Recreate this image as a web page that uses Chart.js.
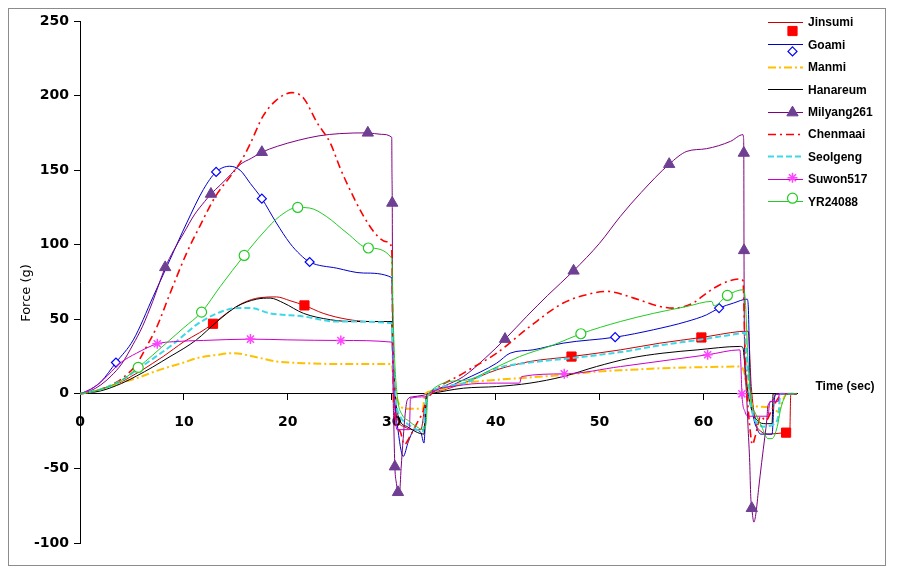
<!DOCTYPE html>
<html><head><meta charset="utf-8">
<script src="https://cdn.jsdelivr.net/npm/chart.js@4/dist/chart.umd.min.js"></script>
<style>html,body{margin:0;padding:0;background:#fff}canvas{display:block}</style>
</head><body>
<canvas id="c" width="897" height="579"></canvas>
<script>
// ---- data (time in sec, force in g) ----
const seriesNames = ['Jinsumi','Goami','Manmi','Hanareum','Milyang261','Chenmaai','Seolgeng','Suwon517','YR24088'];
const xTicks = [0,10,20,30,40,50,60];
const yTicks = [-100,-50,0,50,100,150,200,250];

const jinsumi = [[0,0],[1,1],[2,3],[3,5.5],[4,8],[5,12],[6,16],[7,20.5],[8,25],[9,30],[10,35],[11.5,41],[12.8,47],[14.1,54],[15.7,61],[17.3,64.5],[18.9,65],[20.2,62.5],[21.6,59.3],[23.4,54],[25.7,50],[27.9,48.5],[30,48.5],[30.1,20],[30.3,-5],[30.6,-18],[31.2,-22],[32,-24],[32.8,-24],[33.2,-8],[33.5,0],[34.5,2],[36.9,7.2],[40.1,16.1],[43.3,21.7],[47.3,25],[52,29.5],[55.8,34],[59.8,37.8],[63.5,41.8],[64.3,42],[64.6,5],[65,-18],[65.5,-25],[66.4,-27],[67.95,-26],[68.3,-27],[68.4,0],[69,0]];
const goami = [[0,0],[1,3],[2,8],[3.46,21],[5.13,36.2],[7.05,65.3],[8.66,90],[10.27,114.6],[11.87,137],[13.1,148.8],[14.4,152.6],[15.4,150],[16.4,141],[17.5,130.9],[18.9,114.6],[20.2,101],[21.2,93.3],[22.1,88.4],[24.7,84.3],[27.3,81],[30,78],[30.1,40],[30.3,-5],[30.6,-24],[30.9,-38],[31.1,-42],[31.6,-32],[32.2,-24],[32.8,-26],[33.1,-33],[33.3,-10],[33.5,0],[35,4],[36.9,9.4],[40.1,20.6],[41.4,27.3],[43.6,29.5],[46.5,34],[51.5,38],[55.2,43],[58.4,48.5],[60.3,53],[61.5,57.5],[62.9,60.9],[64.2,63.5],[64.3,60],[64.5,5],[64.8,-15],[65.2,-24],[65.5,-27],[66.6,-27],[66.8,-5],[67,0],[69,0]];
const manmi = [[0,0],[2,3],[4,7.5],[5.45,10.5],[7,14.5],[8.66,18.3],[10,21],[11.2,23.9],[13.2,26.2],[14.8,27.3],[16.7,25],[18.9,21.7],[21.5,20.6],[25,20],[30,20],[30.1,15],[30.4,0],[30.8,-8],[31.5,-10],[33,-10],[33.2,0],[34,2],[36.9,7.2],[40.1,9.4],[43.3,11],[46.5,12.7],[49.7,14.9],[52.9,16.1],[56.1,17.2],[59.4,17.8],[63.5,18.3],[63.9,15],[64.3,0],[64.8,-8],[66.5,-9],[67.2,-12],[67.6,-5],[68,0],[69,0]];
const hanareum = [[0,0],[2,2],[4,7],[5.45,12],[7,18],[8.66,25],[10,30.5],[11.2,36.2],[13.2,48.5],[15.1,58.6],[17,63.5],[18.3,64.2],[19.6,60.9],[21.5,54],[24.1,49.7],[26.3,48.5],[30,48.5],[30.1,30],[30.4,-5],[30.8,-18],[31.5,-22],[32.5,-26],[33.1,-27],[33.3,-2],[33.6,0],[36.9,3.8],[40.1,4.9],[43.3,7.2],[46.5,11.6],[49.7,18.3],[52.9,23.9],[56.1,27.3],[59.4,29.5],[63.5,31.8],[63.8,31],[63.9,25],[64.2,5],[64.6,-10],[65.2,-18],[66,-20],[66.6,-20],[66.7,0],[69,0]];
const milyang261 = [[0,0],[1,2],[2,6],[3,12],[4,20],[5.1,33],[6,45],[7,62],[8.2,84.8],[9,96],[10,108],[11,120],[12,129],[12.6,134],[13.5,140],[14.5,147],[15.4,153.7],[16.5,158],[17.5,162],[19,166],[21,170],[23,173],[25,174.5],[27.7,175],[29,174],[30,172],[30.02,150],[30.05,128],[30.08,60],[30.12,10],[30.2,-20],[30.3,-48.8],[30.45,-60],[30.6,-66],[30.75,-66],[30.9,-50],[31.1,-30],[31.3,-13],[31.5,-4],[32,-2],[33,-1],[33.5,0],[35,5],[36.9,11.6],[39,24],[40.9,36.7],[43,52],[45,66],[47.5,82.5],[50,101],[52,119],[54,135],[56.7,154],[58.4,162.6],[60.3,164.4],[62.6,169.3],[63.8,173.8],[63.85,172],[63.88,161.5],[63.9,96.2],[63.95,30],[64.1,5],[64.3,-24],[64.45,-46],[64.55,-69],[64.65,-76.7],[64.85,-86],[65.05,-80],[65.3,-64],[65.6,-46],[65.9,-29],[66.1,-17],[66.2,-8],[66.6,-5],[67,0],[69,0]];
const chenmaai = [[0,0],[1,1],[2,3],[3,6],[4,10],[5.45,20],[6.5,33],[7.4,45],[8.7,68],[10.3,95],[11.5,112],[13,132],[14.6,147],[15.5,156],[16.4,168],[17.6,186],[18.9,197],[20.4,202],[21.5,198.4],[22.8,182],[24.1,168],[25,152],[25.7,141],[27.3,119],[28.6,106],[29.5,102],[30,98],[30.1,40],[30.2,-8],[30.8,-25],[31.2,-34],[31.8,-28],[32.4,-20],[33,-12],[33.3,-5],[33.8,0],[36.9,13.9],[40.1,27.3],[43.3,45.2],[46.5,60.9],[49.4,67.6],[50.7,68.7],[53.3,64.2],[55.8,58.6],[57.1,57.5],[59,60.9],[60.3,67.6],[61.6,73.2],[63.5,77],[63.8,76],[64,30],[64.2,0],[64.5,-25],[64.7,-34],[65,-28],[65.5,-15],[66,-18],[66.5,-12],[67,-5],[67.6,0],[69,0]];
const seolgeng = [[0,0],[2,3],[4,9],[5.45,16],[7,23.5],[8.66,31.7],[10,39.4],[11.2,46.3],[13.2,54],[15.1,57.5],[16.4,57.5],[18.3,54],[21.5,51.9],[24.7,48.5],[30,47.4],[30.1,25],[30.4,-5],[30.8,-15],[31.5,-20],[32.4,-24],[33,-25],[33.3,-5],[33.6,0],[36.9,7],[40.1,17.2],[43.3,21],[47.3,24],[52,28],[55.8,32.5],[59.8,36.5],[63.5,40.5],[64,41],[64.1,30],[64.5,-5],[64.8,-15],[65.2,-20],[65.8,-22],[66.8,-20],[67.2,-15],[67.4,0],[69,0]];
const suwon517 = [[0,0],[1,3],[2.24,9.4],[3.85,20.6],[5.45,27.3],[7.44,33.6],[9,35],[11.87,35.8],[16.4,36.7],[20,36.2],[25.1,35.8],[30,34.7],[30.1,25],[30.3,-10],[30.5,-24],[31.7,-24],[31.8,-3],[33.2,-2],[33.5,0],[36.9,6],[40.1,7.2],[42.3,7.2],[42.5,11.6],[46.6,13.4],[52,18.3],[56.8,22.8],[60.4,26.2],[63.5,29.5],[63.6,20],[63.7,0],[64,-12],[64.3,-15],[66.2,-15],[66.4,-5],[67.2,-5],[67.3,0],[69,0]];
const yr24088 = [[0,0],[2,3],[4,9],[5.6,17.7],[7,26],[8.66,36.2],[10,44.4],[11.7,54.8],[13.5,72],[15.8,92.8],[17.6,107.8],[19.2,119],[20.95,125],[22.1,124.6],[23.7,119],[25.7,107.8],[27.75,97.8],[30,91],[30.1,60],[30.3,20],[30.6,-5],[31,-14],[31.6,-18],[32.4,-22],[33,-24],[33.3,-20],[33.5,0],[36.9,9],[40.1,18],[42.3,25],[45.6,32.9],[48.2,40.3],[52,48.5],[55.2,54],[58.4,58.6],[60.8,62],[61,59],[62.3,66],[63.8,69.8],[64,65],[64.3,20],[64.6,-5],[65,-13],[65.6,-22],[66.2,-30],[66.6,-30],[67.1,-22],[67.4,-11],[67.7,-4],[68.1,0],[69,0]];

// times at which the original plot shows a marker on each series
const jinsumiMarks = [12.8,21.6,47.3,59.8,67.95];
const goamiMarks = [3.46,13.1,17.5,22.1,51.5,61.5];
const milyangMarks = [8.2,12.6,17.5,27.7,30.05,30.3,30.6,40.9,47.5,56.7,63.88,63.9,64.65];
const suwonMarks = [7.44,16.4,25.1,46.6,60.4,63.7];
const yrMarks = [5.6,11.7,15.8,20.95,27.75,48.2,62.3];

const seriesData = [jinsumi,goami,manmi,hanareum,milyang261,chenmaai,seolgeng,suwon517,yr24088];
const seriesMarks = [jinsumiMarks,goamiMarks,[],[],milyangMarks,[],[],suwonMarks,yrMarks];

// ---- styles ----
const styles = [
  {line:'#CC0000', w:1, dash:[], pt:'rect', r:6.5, fill:'#FF0000', stroke:'#FF0000', pw:1, ldy:9},
  {line:'#0000CC', w:1, dash:[], pt:'rectRot', r:4.5, fill:'#FFFFFF', stroke:'#0000FF', pw:1.2, ldy:7},
  {line:'#FFC000', w:2, dash:[8,3,2,3], pt:null, ldy:0},
  {line:'#000000', w:1, dash:[], pt:null, ldy:0},
  {line:'#800080', w:1, dash:[], pt:'triangle', r:6.5, fill:'#6E3F92', stroke:'#6E3F92', pw:1, ldy:1},
  {line:'#FF0000', w:1.6, dash:[8,4,2,4], pt:null, ldy:0},
  {line:'#3CD8E8', w:2, dash:[6,3], pt:null, ldy:0},
  {line:'#CC00CC', w:1, dash:[], pt:'star', r:5, fill:'#FF44FF', stroke:'#FF44FF', pw:1.5, ldy:-1},
  {line:'#22CC22', w:1, dash:[], pt:'circle', r:5, fill:'#FFFFFF', stroke:'#22CC22', pw:1.2, ldy:-3}
];

const datasets = seriesData.map((d,i)=>{
  const s = styles[i]; const marks = seriesMarks[i];
  return {
    label: seriesNames[i],
    data: d.map(p=>({x:p[0], y:p[1]})),
    borderColor: s.line, borderWidth: s.w, borderDash: s.dash,
    backgroundColor: s.fill || s.line,
    pointStyle: s.pt || 'circle',
    pointBackgroundColor: s.fill || s.line,
    pointBorderColor: s.stroke || s.line,
    pointBorderWidth: s.pw || 1,
    pointRadius: c => (c.raw && marks.includes(c.raw.x)) ? s.r : 0,
    cubicInterpolationMode: 'monotone',
    fill: false,
    order: -i
  };
});

function drawMarker(ctx, s, x, y){
  if(!s.pt) return;
  const r = s.r;
  ctx.save();
  ctx.setLineDash([]);
  ctx.lineWidth = s.pw; ctx.fillStyle = s.fill; ctx.strokeStyle = s.stroke;
  ctx.beginPath();
  if(s.pt==='rect'){ const h=r/Math.SQRT2; ctx.rect(x-h,y-h,2*h,2*h); ctx.fill(); ctx.stroke(); }
  else if(s.pt==='rectRot'){ ctx.moveTo(x,y-r);ctx.lineTo(x+r,y);ctx.lineTo(x,y+r);ctx.lineTo(x-r,y);ctx.closePath();ctx.fill();ctx.stroke(); }
  else if(s.pt==='triangle'){ const a=r*Math.sqrt(3)/2; ctx.moveTo(x,y-r);ctx.lineTo(x+a,y+r/2);ctx.lineTo(x-a,y+r/2);ctx.closePath();ctx.fill();ctx.stroke(); }
  else if(s.pt==='circle'){ ctx.arc(x,y,r,0,Math.PI*2); ctx.fill(); ctx.stroke(); }
  else if(s.pt==='star'){ for(let k=0;k<4;k++){const ang=k*Math.PI/4; ctx.moveTo(x-r*Math.sin(ang),y-r*Math.cos(ang)); ctx.lineTo(x+r*Math.sin(ang),y+r*Math.cos(ang));} ctx.stroke(); }
  ctx.restore();
}

const decor = {
  id:'decor',
  beforeDraw(chart){
    const ctx = chart.ctx;
    ctx.save();
    ctx.fillStyle='#fff'; ctx.fillRect(0,0,chart.width,chart.height);
    ctx.strokeStyle='#8C8C8C'; ctx.lineWidth=1;
    ctx.strokeRect(8.5,8.5,877,557);
    ctx.restore();
  },
  afterDraw(chart){
    const ctx = chart.ctx;
    ctx.save();
    ctx.fillStyle='#000';
    ctx.font='13px "DejaVu Sans"';
    ctx.textAlign='center'; ctx.textBaseline='middle';
    ctx.translate(27,293); ctx.rotate(-Math.PI/2); ctx.fillText('Force (g)',0,0);
    ctx.setTransform(1,0,0,1,0,0);
    ctx.font='bold 12px "Liberation Sans"';
    ctx.fillText('Time (sec)',845,387);
    ctx.textAlign='left';
    seriesNames.forEach((n,i)=>{
      const s = styles[i]; const y = 22 + i*22.4;
      ctx.save();
      ctx.strokeStyle=s.line; ctx.lineWidth=s.w; ctx.setLineDash(s.dash);
      ctx.beginPath(); ctx.moveTo(768,Math.round(y)+0.5); ctx.lineTo(803,Math.round(y)+0.5); ctx.stroke();
      ctx.restore();
      drawMarker(ctx, s, 792.5, y + s.ldy);
      ctx.fillStyle='#000'; ctx.font='bold 12px "Liberation Sans"';
      ctx.fillText(n, 808, y+1);
    });
    ctx.restore();
  }
};

new Chart(document.getElementById('c'), {
  type:'line',
  data:{datasets},
  plugins:[decor],
  options:{
    responsive:false, animation:false, events:[],
    layout:{padding:{left:0, top:21, right:100, bottom:36}},
    plugins:{legend:{display:false}, tooltip:{enabled:false}},
    scales:{
      x:{type:'linear', min:0, max:69, position:{y:0},
         afterBuildTicks: s => { s.ticks = xTicks.map(v=>({value:v})); },
         ticks:{font:{family:'DejaVu Sans', weight:'bold', size:14}, color:'#000', padding:14, maxRotation:0, autoSkip:false},
         grid:{drawOnChartArea:false, tickLength:6, color:'#000'},
         border:{color:'#000', width:1}},
      y:{type:'linear', min:-100, max:250,
         afterBuildTicks: s => { s.ticks = yTicks.map(v=>({value:v})); },
         afterFit: s => { s.width = 80; },
         ticks:{font:{family:'DejaVu Sans', weight:'bold', size:14}, color:'#000', padding:5},
         grid:{drawOnChartArea:false, tickLength:6, color:'#000'},
         border:{color:'#000', width:1}}
    }
  }
});
</script>
</body></html>
